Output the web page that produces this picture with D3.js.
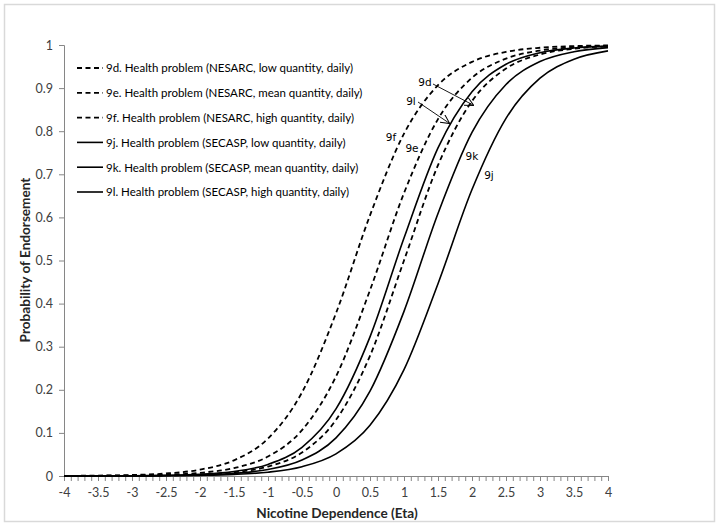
<!DOCTYPE html>
<html><head><meta charset="utf-8">
<script src="https://cdn.jsdelivr.net/npm/d3@7"></script>
<style>
html,body{margin:0;padding:0;background:#fff;}
svg{display:block;}
</style></head>
<body>
<svg id="chart" width="724" height="528"></svg>
<script>
// ---- data ----
const etaValues = [-4,-3.5,-3,-2.5,-2,-1.5,-1,-0.5,0,0.5,1,1.5,2,2.5,3,3.5,4];
const xTickLabels = ["-4","-3.5","-3","-2.5","-2","-1.5","-1","-0.5","0","0.5","1","1.5","2","2.5","3","3.5","4"];
const yTickLabels = ["0","0.1","0.2","0.3","0.4","0.5","0.6","0.7","0.8","0.9","1"];
const seriesNames = [
  "9d. Health problem (NESARC, low quantity, daily)",
  "9e. Health problem (NESARC, mean quantity, daily)",
  "9f. Health problem (NESARC, high quantity, daily)",
  "9j. Health problem (SECASP, low quantity, daily)",
  "9k. Health problem (SECASP, mean quantity, daily)",
  "9l. Health problem (SECASP, high quantity, daily)"
];
const seriesDashed = [true,true,true,false,false,false];
const s9d = [0.00007,0.00019,0.0005,0.00129,0.00333,0.00858,0.02188,0.0547,0.1301,0.2789,0.5,0.7211,0.8699,0.9453,0.9781,0.9914,0.9967];
const s9e = [0.00018,0.00046,0.00117,0.00294,0.00737,0.01839,0.0451,0.1064,0.2311,0.4311,0.6564,0.8281,0.9240,0.9684,0.9872,0.9949,0.9980];
const s9f = [0.00037,0.00093,0.00235,0.0059,0.0148,0.0364,0.0871,0.1939,0.3777,0.6048,0.7942,0.9069,0.9609,0.9841,0.9936,0.9975,0.9990];
const s9j = [0.00004,0.0001,0.00024,0.0006,0.00148,0.00363,0.00887,0.02154,0.0513,0.1176,0.2468,0.4462,0.6646,0.8298,0.9230,0.9672,0.9864];
const s9k = [0.00006,0.00015,0.00038,0.00095,0.0024,0.00602,0.01505,0.0371,0.0886,0.1969,0.3820,0.6092,0.7972,0.9084,0.9616,0.9844,0.9938];
const s9l = [0.00009,0.00024,0.00062,0.00159,0.0041,0.01055,0.02683,0.0666,0.1556,0.3228,0.5521,0.7612,0.8917,0.9552,0.9822,0.9930,0.9973];
const seriesValues = [s9d,s9e,s9f,s9j,s9k,s9l];
const annoLabels = ["9d","9l","9f","9e","9k","9j"];

// ---- layout ----
const svg = d3.select("#chart");
const x = d3.scaleLinear().domain([-4,4]).range([64,608]);
const y = d3.scaleLinear().domain([0,1]).range([476,45]);
const axisColor = "#868686";
const textColor = "#404040";
const tickFont = "Lato, 'Open Sans', sans-serif";

// outer chart border
svg.append("rect").attr("x",4.5).attr("y",4.5).attr("width",710).attr("height",517)
  .attr("fill","#fff").attr("stroke","#d9d9d9").attr("stroke-width",1.5);

// y axis
const yAxis = d3.axisLeft(y).tickValues(d3.range(0,11).map(i=>i/10))
  .tickFormat((d,i)=>yTickLabels[i]).tickSizeOuter(0).tickSize(5).tickPadding(6);
const gy = svg.append("g").attr("transform",`translate(${x(-4)},0)`).call(yAxis);
gy.select(".domain").attr("stroke",axisColor);
gy.selectAll(".tick line").attr("stroke",axisColor);
gy.selectAll(".tick text").attr("fill",textColor).style("font-family",tickFont).style("font-size","12.5px");

// x axis: ticks every 0.1, labels every 0.5
const minorTicks = d3.range(0,81).map(i=>-4+i/10);
const xAxisTicks = d3.axisBottom(x).tickValues(minorTicks).tickFormat("").tickSizeOuter(0).tickSize(5);
const gx = svg.append("g").attr("transform",`translate(0,${y(0)})`).call(xAxisTicks);
gx.select(".domain").attr("stroke",axisColor);
gx.selectAll(".tick line").attr("stroke",axisColor);
const xLabAxis = d3.axisBottom(x).tickValues(etaValues).tickFormat((d,i)=>xTickLabels[i]).tickSize(0).tickPadding(12);
const gx2 = svg.append("g").attr("transform",`translate(0,${y(0)})`).call(xLabAxis);
gx2.select(".domain").remove();
gx2.selectAll(".tick text").attr("fill",textColor).style("font-family",tickFont).style("font-size","12.5px");

// axis titles
svg.append("text").attr("x",337).attr("y",518).attr("text-anchor","middle")
  .style("font-family",tickFont).style("font-weight","bold").style("font-size","13.6px").attr("fill","#262626")
  .text("Nicotine Dependence (Eta)");
svg.append("text").attr("transform","translate(30,260) rotate(-90)").attr("text-anchor","middle")
  .style("font-family",tickFont).style("font-weight","bold").style("font-size","13.6px").attr("fill","#262626")
  .text("Probability of Endorsement");

// curves
const line = d3.line().x((d,i)=>x(etaValues[i])).y(d=>y(d)).curve(d3.curveMonotoneX);
seriesValues.forEach((vals,k)=>{
  svg.append("path").attr("d",line(vals)).attr("fill","none").attr("stroke","#000")
    .attr("stroke-width",seriesDashed[k]?1.8:1.6)
    .attr("stroke-dasharray",seriesDashed[k]?"5,3.5":null);
});

// legend
const legTop = 68, legStep = 24.8;
seriesNames.forEach((name,k)=>{
  const yy = legTop + k*legStep;
  svg.append("line").attr("x1",77).attr("x2",103).attr("y1",yy).attr("y2",yy)
    .attr("stroke","#000").attr("stroke-width",seriesDashed[k]?1.8:1.6)
    .attr("stroke-dasharray",seriesDashed[k]?"5,3.5":null);
  svg.append("text").attr("x",106).attr("y",yy+4.3)
    .style("font-family",tickFont).style("font-size","11.5px").attr("fill","#000").text(name);
});

// curve annotations
const annoFont = "'DejaVu Sans', sans-serif";
const annoPos = [[425,86],[411,105],[391,141],[412,152],[472,160],[489,179]];
annoLabels.forEach((t,i)=>{
  svg.append("text").attr("x",annoPos[i][0]).attr("y",annoPos[i][1]).attr("text-anchor","middle")
    .style("font-family",annoFont).style("font-size","10.5px").attr("fill","#000").text(t);
});
// arrows (9d -> curve 9d, 9l -> curve 9l)
const defs = svg.append("defs");
defs.append("marker").attr("id","arr").attr("viewBox","0 0 10 10").attr("refX",9).attr("refY",5)
  .attr("markerWidth",9).attr("markerHeight",9).attr("markerUnits","userSpaceOnUse").attr("orient","auto")
  .append("path").attr("d","M0,0 L10,5 L0,10").attr("fill","none").attr("stroke","#000").attr("stroke-width",1.1);
svg.append("line").attr("x1",433).attr("y1",84).attr("x2",473).attr("y2",105)
  .attr("stroke","#000").attr("stroke-width",0.9).attr("marker-end","url(#arr)");
svg.append("line").attr("x1",418).attr("y1",102).attr("x2",449).attr("y2",123)
  .attr("stroke","#000").attr("stroke-width",0.9).attr("marker-end","url(#arr)");
</script>
</body></html>
